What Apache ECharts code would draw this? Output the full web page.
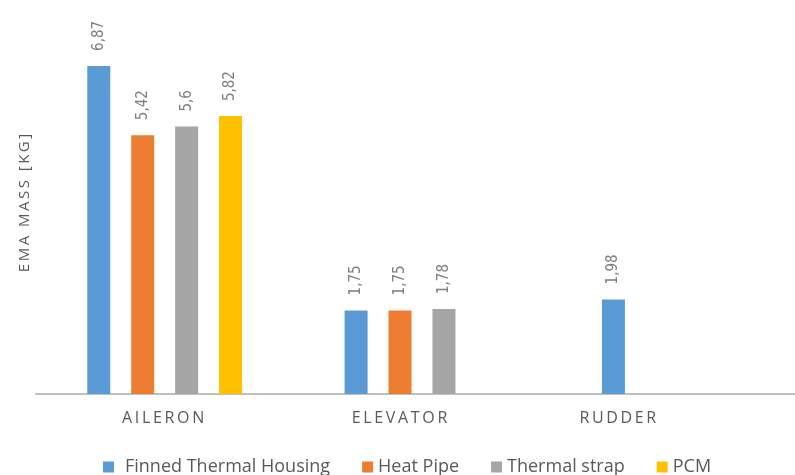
<!DOCTYPE html>
<html>
<head>
<meta charset="utf-8">
<script src="https://cdn.jsdelivr.net/npm/echarts@6/dist/echarts.min.js"></script>
<style>
  html, body { margin: 0; padding: 0; background: #fff; }
  #chart { width: 795px; height: 475px; }
</style>
</head>
<body>
<div id="chart"></div>
<script>
// EMA mass per control surface, by thermal solution
const categories = ['AILERON', 'ELEVATOR', 'RUDDER'];
const seriesNames = ['Finned Thermal Housing', 'Heat Pipe', 'Thermal strap', 'PCM'];
const finnedThermalHousing = [6.87, 1.75, 1.98];
const heatPipe = [5.42, 1.75, null];
const thermalStrap = [5.6, 1.78, null];
const pcm = [5.82, null, null];

const colors = ['#5B9BD5', '#ED7D31', '#A5A5A5', '#FFC000'];
const values = [finnedThermalHousing, heatPipe, thermalStrap, pcm];
const labelFont = "'Liberation Sans Narrow', 'DejaVu Sans Condensed', 'Open Sans', sans-serif";
const uiFont = "'Open Sans', sans-serif";

// spread letters apart with thin spaces
const spaced = s => s.split('').join('\u2009');

const chart = echarts.init(document.getElementById('chart'), null, { renderer: 'canvas' });

const catLabel = padRight => ({
  color: '#595959', fontSize: 16, fontFamily: uiFont, padding: [0, padRight, 0, 0]
});

chart.setOption({
  animation: false,
  backgroundColor: '#ffffff',
  color: colors,
  // the plot runs slightly past the right edge of the canvas
  grid: { left: 36, width: 772, top: 12, bottom: 81, outerBoundsMode: 'none' },
  legend: {
    data: seriesNames.map((name, k) => k === 0
      ? { name: name, textStyle: { padding: [0, 0, 0, 6] } }
      : name),
    left: 98,
    top: 453,
    icon: 'rect',
    itemWidth: 11,
    itemHeight: 11,
    itemGap: 32,
    textStyle: { color: '#595959', fontSize: 18, fontFamily: uiFont }
  },
  xAxis: {
    type: 'category',
    data: categories,
    axisLine: { show: true, lineStyle: { color: '#BFBFBF', width: 2 } },
    axisTick: { show: false },
    axisLabel: {
      margin: 16,
      formatter: (v, i) => '{c' + i + '|' + spaced(v) + '}',
      rich: { c0: catLabel(3), c1: catLabel(45), c2: catLabel(123) }
    }
  },
  yAxis: {
    type: 'value',
    min: 0,
    max: 8,
    name: spaced('EMA MASS [KG]'),
    nameLocation: 'middle',
    nameGap: 4,
    nameTextStyle: { color: '#595959', fontSize: 15, fontFamily: uiFont },
    axisLine: { show: false },
    axisTick: { show: false },
    axisLabel: { show: false },
    splitLine: { show: false }
  },
  series: seriesNames.map((name, k) => ({
    name: name,
    type: 'bar',
    barWidth: 23,
    barGap: '91%',
    data: values[k],
    itemStyle: { color: colors[k] },
    label: {
      show: true,
      position: 'top',
      rotate: 90,
      align: 'left',
      verticalAlign: 'middle',
      distance: 15,
      color: '#7F7F7F',
      fontSize: 15,
      fontFamily: labelFont,
      formatter: p => String(p.value).replace('.', ',')
    }
  }))
});
</script>
</body>
</html>
